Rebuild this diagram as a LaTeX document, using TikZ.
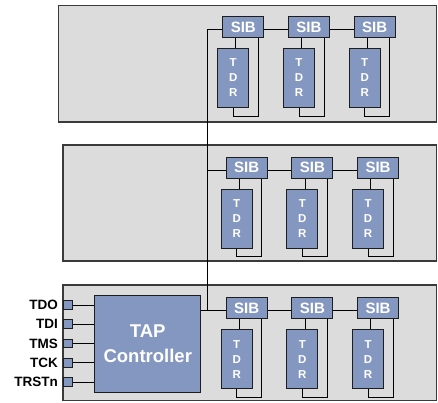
\documentclass[tikz,border=0pt]{standalone}
\usepackage{fontspec}
\setmainfont{Liberation Sans}
\usetikzlibrary{calc}
\definecolor{panelgray}{HTML}{DCDCDC}
\definecolor{panelline}{HTML}{3A3A3A}
\definecolor{boxblue}{HTML}{8497C1}
\definecolor{boxline}{HTML}{1E1E1E}
\tikzset{
  panel/.style={fill=panelgray, draw=panelline, line width=1.3pt},
  sib/.style={fill=boxblue, draw=boxline, line width=0.9pt, minimum width=41pt, minimum height=21pt,
    inner sep=0pt, text=white, font=\fontsize{15}{15}\selectfont\bfseries},
  tdr/.style={fill=boxblue, draw=boxline, line width=0.9pt, minimum width=31pt, minimum height=59pt,
    inner sep=0pt, text=white, align=center, font=\fontsize{11.5}{15}\selectfont\bfseries},
  tap/.style={fill=boxblue, draw=boxline, line width=0.9pt, minimum width=106pt, minimum height=97pt,
    inner sep=0pt, text=white, align=center, font=\fontsize{18.5}{24.7}\selectfont\bfseries},
  pin/.style={fill=boxblue, draw=boxline, line width=0.9pt, minimum width=9.4pt, minimum height=8.7pt, inner sep=0pt},
  pinlabel/.style={anchor=east, inner sep=0pt, font=\fontsize{13.5}{13.5}\selectfont\bfseries},
  wire/.style={draw=black, line width=0.8pt}
}
\begin{document}
\begin{tikzpicture}[x=1pt, y=-1pt]
\useasboundingbox (0,0) rectangle (438,402);

% three module panels
\draw[panel] (58.5,5.5) rectangle (436.5,122);
\draw[panel] (63,145) rectangle (436.5,261);
\draw[panel] (63,285) rectangle (436.5,400.5);

% SIB / TDR chains in each panel
\foreach \p/\x/\y in {1/222.3/16, 2/225.7/156.7, 3/225.7/297.3} {
  \foreach \k in {0,1,2} {
    \node[sib, anchor=north west] (s\p\k) at ({\x+65.7*\k},\y) {SIB};
    \node[tdr, anchor=north west] (t\p\k) at ({\x-5+65.7*\k},{\y+32}) {T\\D\\R};
    \draw[wire] ([xshift=13.5pt]s\p\k.south west) coordinate (c\p\k) -- (c\p\k |- t\p\k.north);
    \draw[wire] (t\p\k.south) -- ++(0,8) -| ([xshift=36pt]s\p\k.south west);
  }
  \coordinate (in\p) at ([yshift=-2.5pt]s\p0.west);
  \draw[wire] ([yshift=-2.5pt]s\p0.east) -- ([yshift=-2.5pt]s\p1.west);
  \draw[wire] ([yshift=-2.5pt]s\p1.east) -- ([yshift=-2.5pt]s\p2.west);
}

% TAP controller and its pins
\node[tap, anchor=north west] (tap) at (94.3,295) {TAP\\Controller};
\foreach \n/\lab/\yy in {1/TDO/305, 2/TDI/324.2, 3/TMS/343.4, 4/TCK/362.8, 5/TRSTn/382} {
  \node[pin] (p\n) at (68,\yy) {};
  \node[pinlabel] (l\n) at (58,\yy) {\lab};
  \draw[wire] (p\n.east) -- (p\n.east -| tap.west);
}

% scan path through the panels
\coordinate (bus) at (207.3,0);
\draw[wire] (in1) -| (bus |- in3);
\draw[wire] (in2) -- (bus |- in2);
\draw[wire] (tap.east |- in3) -- (in3);
\end{tikzpicture}
\end{document}
